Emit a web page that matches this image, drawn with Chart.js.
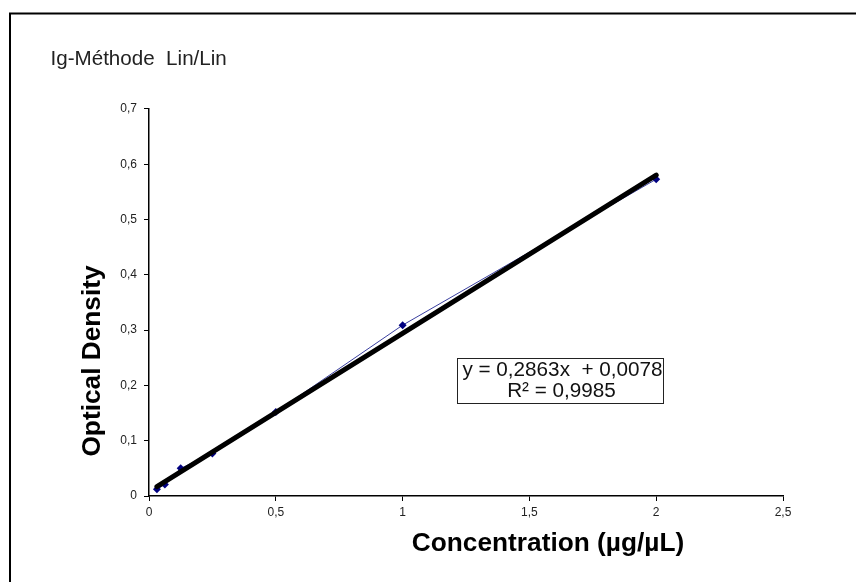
<!DOCTYPE html>
<html>
<head>
<meta charset="utf-8">
<script src="https://cdn.jsdelivr.net/npm/chart.js@4"></script>
<style>
  html, body { margin: 0; padding: 0; background: #fff; }
  #wrap { width: 856px; height: 582px; }
</style>
</head>
<body>
<div id="wrap"><canvas id="c" width="856" height="582"></canvas></div>
<script>
// ---- data ----
const concentrations = [0.03125, 0.0625, 0.125, 0.25, 0.5, 1, 2];
const opticalDensity = [0.012, 0.021, 0.05, 0.077, 0.152, 0.309, 0.573];
const trendX = [0.03125, 2];
const trendY = [0.0168, 0.5804];
const xTickLabels = ['0', '0,5', '1', '1,5', '2', '2,5'];
const yTickLabels = ['0', '0,1', '0,2', '0,3', '0,4', '0,5', '0,6', '0,7'];
const chartTitle = 'Ig-Méthode  Lin/Lin';
const xTitle = 'Concentration (µg/µL)';
const yTitle = 'Optical Density';
const equationLines = ['y = 0,2863x  + 0,0078', 'R² = 0,9985'];

const FONT = '"Liberation Sans", Arial, sans-serif';

const decor = {
  id: 'decor',
  beforeDraw(chart) {
    const ctx = chart.ctx;
    ctx.save();
    ctx.fillStyle = '#fff';
    ctx.fillRect(0, 0, chart.width, chart.height);
    ctx.restore();
  },
  afterDraw(chart) {
    const ctx = chart.ctx;
    ctx.save();
    // outer frame (top + left visible)
    ctx.strokeStyle = '#000';
    ctx.lineWidth = 2;
    ctx.beginPath();
    ctx.moveTo(856, 13.5);
    ctx.lineTo(10, 13.5);
    ctx.lineTo(10, 582);
    ctx.stroke();

    // chart title
    ctx.fillStyle = '#222';
    ctx.font = '20.6px ' + FONT;
    ctx.textAlign = 'left';
    ctx.textBaseline = 'alphabetic';
    ctx.fillText(chartTitle, 50.5, 65);

    // x axis title
    ctx.fillStyle = '#000';
    ctx.font = 'bold 25px ' + FONT;
    ctx.textAlign = 'center';
    ctx.save();
    ctx.translate(548, 551);
    ctx.scale(1.05, 1);
    ctx.fillText(xTitle, 0, 0);
    ctx.restore();

    // y axis title
    ctx.save();
    ctx.translate(99.5, 361);
    ctx.rotate(-Math.PI / 2);
    ctx.scale(1.05, 1);
    ctx.textAlign = 'center';
    ctx.fillText(yTitle, 0, 0);
    ctx.restore();

    // equation box
    const bx = 457.5, by = 358.5, bw = 206, bh = 45;
    ctx.fillStyle = '#fff';
    ctx.fillRect(bx, by, bw, bh);
    ctx.strokeStyle = '#222';
    ctx.lineWidth = 1;
    ctx.strokeRect(bx, by, bw, bh);
    ctx.fillStyle = '#111';
    ctx.font = '20.7px ' + FONT;
    ctx.textAlign = 'center';
    ctx.textBaseline = 'alphabetic';
    ctx.fillText(equationLines[0], bx + bw / 2 + 2, 376);
    ctx.fillText(equationLines[1], bx + bw / 2 + 1, 397);
    ctx.restore();
  }
};

const ctx = document.getElementById('c').getContext('2d');
new Chart(ctx, {
  type: 'scatter',
  data: {
    datasets: [
      {
        label: 'Series',
        data: concentrations.map((x, i) => ({ x: x, y: opticalDensity[i] })),
        showLine: true,
        borderColor: '#3a3fa0',
        borderWidth: 1,
        pointStyle: 'rectRot',
        pointRadius: 4,
        pointBackgroundColor: '#000080',
        pointBorderColor: '#000080',
        pointBorderWidth: 0,
        order: 2
      },
      {
        label: 'Trend',
        data: trendX.map((x, i) => ({ x: x, y: trendY[i] })),
        showLine: true,
        borderColor: '#000',
        borderWidth: 5,
        borderCapStyle: 'round',
        pointRadius: 0,
        order: 1
      }
    ]
  },
  options: {
    responsive: false,
    animation: false,
    devicePixelRatio: 1,
    layout: { padding: { top: 109, right: 73, left: 0, bottom: 0 } },
    plugins: {
      legend: { display: false },
      tooltip: { enabled: false },
      title: { display: false }
    },
    scales: {
      x: {
        type: 'linear',
        min: 0, max: 2.5,
        afterFit(s) { s.height = 86; },
        afterBuildTicks(s) { s.ticks = xTickLabels.map((_, i) => ({ value: i * 0.5 })); },
        ticks: {
          callback: (v, i) => xTickLabels[i],
          color: '#222',
          font: { family: FONT, size: 12 },
          padding: 4,
          maxRotation: 0,
          autoSkip: false
        },
        grid: { drawOnChartArea: false, drawTicks: true, tickLength: 5, color: '#000', lineWidth: 1 },
        border: { color: '#000', width: 1.5 }
      },
      y: {
        type: 'linear',
        min: 0, max: 0.7,
        afterFit(s) { s.width = 149; },
        afterBuildTicks(s) { s.ticks = yTickLabels.map((_, i) => ({ value: i * 0.1 })); },
        ticks: {
          callback: (v, i) => yTickLabels[i],
          color: '#222',
          font: { family: FONT, size: 12 },
          padding: 7,
          autoSkip: false
        },
        grid: { drawOnChartArea: false, drawTicks: true, tickLength: 5, color: '#000', lineWidth: 1 },
        border: { color: '#000', width: 1.5 }
      }
    }
  },
  plugins: [decor]
});
</script>
</body>
</html>
